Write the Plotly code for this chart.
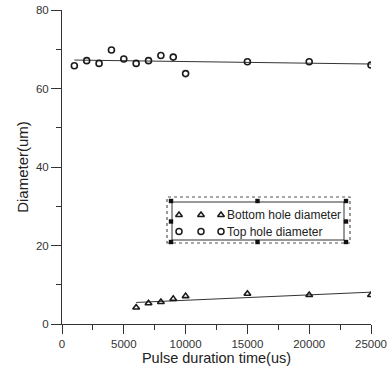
import numpy as np
import plotly.graph_objects as go

# ---- data ----
top_x = [1000, 2000, 3000, 4000, 5000, 6000, 7000, 8000, 9000, 10000, 15000, 20000, 25000]
top_y = [65.8, 67.1, 66.4, 69.8, 67.5, 66.4, 67.1, 68.4, 68.0, 63.8, 66.8, 66.8, 66.0]

bot_x = [6000, 7000, 8000, 9000, 10000, 15000, 20000, 25000]
bot_y = [4.2, 5.3, 5.6, 6.4, 7.1, 7.7, 7.4, 7.4]

x_ticks = [0, 5000, 10000, 15000, 20000, 25000]
y_ticks = [0, 20, 40, 60, 80]

legend_labels = ["Bottom hole diameter", "Top hole diameter"]

W, H = 389, 373
# plot area in pixels
SL, SR, ST, SB = 62, 371, 10, 324
L, T, R, B = SL, ST, W - SR, H - SB
PW, PH = SR - SL, SB - ST


def px(x):
    return (x - SL) / PW


def py(y):
    return (SB - y) / PH


def fit(xs, ys):
    k, b = np.polyfit(xs, ys, 1)
    xe = np.array([min(xs), max(xs)])
    return xe, k * xe + b


fig = go.Figure()
ink = "#1a1a1a"

for xs, ys, sym in [(top_x, top_y, "circle-open"), (bot_x, bot_y, "triangle-up-open")]:
    fx, fy = fit(xs, ys)
    fig.add_trace(go.Scatter(x=fx, y=fy, mode="lines",
                             line=dict(color="#333333", width=1), showlegend=False,
                             hoverinfo="skip"))
    fig.add_trace(go.Scatter(x=xs, y=ys, mode="markers",
                             marker=dict(symbol=sym, size=6, color=ink,
                                         line=dict(width=1.6, color=ink)),
                             showlegend=False))

# ---- hand-drawn legend box (Origin style) ----
shapes = []
shapes.append(dict(type="rect", xref="paper", yref="paper",
                   x0=px(167), x1=px(350), y0=py(243), y1=py(197),
                   line=dict(color="#555555", width=1.2, dash="dot")))
shapes.append(dict(type="rect", xref="paper", yref="paper",
                   x0=px(172), x1=px(344), y0=py(240), y1=py(202),
                   line=dict(color="#333333", width=1)))
for hx in [171, 257.5, 346]:
    for hy in [201, 221.5, 242]:
        if hx == 257.5 and hy == 221.5:
            continue
        shapes.append(dict(type="rect", xref="paper", yref="paper",
                           x0=px(hx - 2.2), x1=px(hx + 2.2), y0=py(hy + 2.2), y1=py(hy - 2.2),
                           fillcolor="#111111", line=dict(width=0)))

leg_rows = [(215, "triangle-up-open"), (231.5, "circle-open")]
for (ry, sym), lab in zip(leg_rows, legend_labels):
    fig.add_trace(go.Scatter(x=[px(179), px(201), px(221)], y=[py(ry)] * 3,
                             xaxis="x2", yaxis="y2", mode="markers",
                             marker=dict(symbol=sym, size=6, color=ink,
                                         line=dict(width=1.5, color=ink)),
                             showlegend=False, hoverinfo="skip"))

annotations = []
for (ry, sym), lab in zip(leg_rows, legend_labels):
    annotations.append(dict(text=lab, xref="paper", yref="paper",
                            x=px(225), y=py(ry), xanchor="left", yanchor="middle",
                            showarrow=False,
                            font=dict(family="Liberation Sans, Arial", size=12, color="#222222")))

fig.update_layout(
    width=W, height=H,
    margin=dict(l=L, r=R, t=T, b=B, autoexpand=False),
    paper_bgcolor="white", plot_bgcolor="white",
    font=dict(family="Liberation Sans, Arial", color="#333333"),
    showlegend=False,
    shapes=shapes,
    annotations=annotations,
    xaxis=dict(range=[0, 25000], tickvals=x_ticks, ticktext=[str(v) for v in x_ticks],
               ticks="outside", ticklen=9, tickwidth=1, tickcolor="#333333",
               minor=dict(dtick=2500, ticks="outside", ticklen=5, tickcolor="#333333"),
               showline=True, linecolor="#333333", linewidth=1,
               showgrid=False, zeroline=False, automargin=False,
               ticklabeloverflow="allow",
               tickfont=dict(size=11.5, color="#333333"),
               title=dict(text="Pulse duration time(us)",
                          font=dict(size=14.5, color="#222222"), standoff=3)),
    yaxis=dict(range=[0, 80], tickvals=y_ticks, ticktext=[str(v) for v in y_ticks],
               ticks="outside", ticklen=10, tickwidth=1, tickcolor="#333333",
               minor=dict(dtick=10, ticks="outside", ticklen=5, tickcolor="#333333"),
               showline=True, linecolor="#333333", linewidth=1,
               showgrid=False, zeroline=False, automargin=False,
               ticklabeloverflow="allow",
               tickfont=dict(size=11.5, color="#333333"),
               title=dict(text="Diameter(um)",
                          font=dict(size=15, color="#222222"), standoff=3)),
    xaxis2=dict(range=[0, 1], overlaying="x", visible=False, fixedrange=True),
    yaxis2=dict(range=[0, 1], overlaying="y", visible=False, fixedrange=True),
)

fig.write_html("out.html", config={"displayModeBar": False},
               post_script="document.body.style.margin='0';document.body.style.overflow='hidden';")
